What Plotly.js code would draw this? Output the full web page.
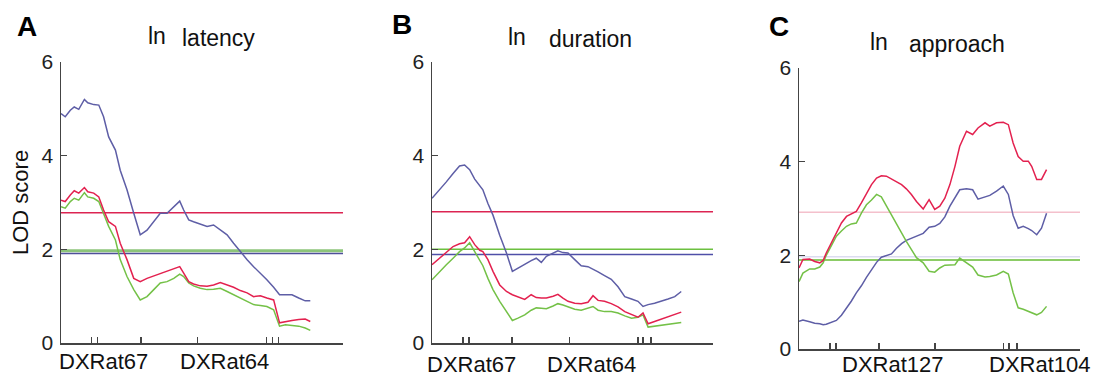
<!DOCTYPE html>
<html>
<head>
<meta charset="utf-8">
<script src="https://cdn.plot.ly/plotly-3.0.1.min.js"></script>
<style>html,body{margin:0;padding:0;background:#fff;}#chart{width:1096px;height:377px;}</style>
</head>
<body>
<div id="chart"></div>
<script>
// ---------- Panel A: ln latency ----------
const cmA = [0, 1.5, 3.3, 4.7, 6.3, 8.3, 9.5, 11.6, 13.4, 15.1, 16.9, 19.3, 21.0, 23.4, 25.8, 28.1, 30.5, 32.9, 35.2, 37.6, 40.0, 42.1, 43.5, 45.3, 47.0, 49.4, 51.8, 54.1, 56.5, 58.9, 61.2, 63.6, 66.0, 68.3, 70.7, 73.0, 75.4, 77.5, 79.6, 81.9, 84.3, 86.6, 88.4];
const lodA_blue = [4.90, 4.83, 4.97, 5.04, 4.99, 5.20, 5.13, 5.09, 5.08, 4.83, 4.40, 4.12, 3.69, 3.27, 2.77, 2.31, 2.41, 2.59, 2.77, 2.77, 2.91, 3.03, 2.84, 2.63, 2.59, 2.54, 2.49, 2.52, 2.41, 2.31, 2.13, 1.95, 1.78, 1.63, 1.49, 1.35, 1.19, 1.03, 1.03, 1.03, 0.96, 0.90, 0.90];
const lodA_red = [3.05, 3.02, 3.16, 3.25, 3.20, 3.32, 3.23, 3.20, 3.12, 2.84, 2.59, 2.49, 2.13, 1.78, 1.38, 1.31, 1.38, 1.43, 1.48, 1.53, 1.58, 1.63, 1.49, 1.31, 1.26, 1.22, 1.21, 1.24, 1.29, 1.24, 1.19, 1.12, 1.07, 0.99, 1.01, 0.96, 0.92, 0.43, 0.46, 0.48, 0.50, 0.51, 0.46];
const lodA_green = [2.91, 2.88, 3.02, 3.09, 3.05, 3.21, 3.12, 3.09, 3.02, 2.77, 2.49, 2.20, 1.78, 1.42, 1.14, 0.92, 0.99, 1.14, 1.28, 1.31, 1.38, 1.47, 1.42, 1.28, 1.22, 1.17, 1.14, 1.15, 1.17, 1.10, 1.03, 0.96, 0.89, 0.82, 0.80, 0.78, 0.71, 0.36, 0.39, 0.37, 0.36, 0.32, 0.27];
const thrA = {red: 2.78, green: 1.97, blue: 1.91};
const markersA = [10.9, 12.9, 28.4, 48.5, 72.9, 74.9, 77.0];
const markerLabelsA = ["DXRat67", "DXRat64"];
const markerLabelPosA = [15.2, 57.8];

// ---------- Panel B: ln duration ----------
const cmB = [0, 2.7, 5.1, 7.5, 9.8, 11.6, 13.4, 15.2, 17.0, 18.1, 19.9, 21.7, 24.1, 26.5, 28.6, 30.6, 33.0, 35.3, 37.1, 38.9, 40.7, 43.1, 44.8, 46.6, 48.4, 50.8, 53.1, 55.5, 57.3, 59.1, 61.4, 63.8, 66.2, 68.6, 71.0, 73.3, 75.1, 76.9, 79.2, 81.6, 84.0, 86.4, 88.7];
const lodB_blue = [3.09, 3.27, 3.44, 3.62, 3.78, 3.80, 3.70, 3.50, 3.35, 3.27, 2.98, 2.73, 2.30, 1.92, 1.53, 1.60, 1.69, 1.76, 1.81, 1.72, 1.85, 1.93, 1.97, 1.93, 1.92, 1.78, 1.65, 1.63, 1.58, 1.52, 1.44, 1.36, 1.20, 0.99, 0.94, 0.89, 0.78, 0.82, 0.85, 0.89, 0.94, 0.99, 1.10];
const lodB_red = [1.67, 1.81, 1.95, 2.06, 2.12, 2.14, 2.27, 2.10, 1.98, 1.95, 1.78, 1.53, 1.24, 1.10, 1.03, 0.98, 0.93, 1.03, 0.97, 0.96, 0.96, 1.00, 1.04, 0.96, 0.89, 0.85, 0.84, 0.87, 1.01, 0.91, 0.89, 0.84, 0.77, 0.67, 0.60, 0.55, 0.64, 0.41, 0.46, 0.51, 0.55, 0.60, 0.66];
const lodB_green = [1.35, 1.53, 1.67, 1.81, 1.95, 2.03, 2.14, 1.95, 1.78, 1.65, 1.38, 1.14, 0.89, 0.67, 0.48, 0.53, 0.60, 0.70, 0.75, 0.74, 0.73, 0.79, 0.84, 0.81, 0.77, 0.72, 0.70, 0.75, 0.78, 0.70, 0.67, 0.67, 0.64, 0.58, 0.53, 0.55, 0.60, 0.34, 0.36, 0.37, 0.39, 0.41, 0.44];
const thrB = {red: 2.80, green: 2.00, blue: 1.89};
const markersB = [11.0, 13.2, 28.5, 48.8, 73.3, 75.1, 77.9];
const markerLabelsB = ["DXRat67", "DXRat64"];
const markerLabelPosB = [14.2, 56.9];

// ---------- Panel C: ln approach ----------
const cmC = [0, 1.4, 3.8, 5.6, 7.4, 8.6, 9.7, 11.5, 13.3, 15.1, 16.9, 18.6, 20.4, 22.2, 24.0, 25.8, 27.6, 29.3, 31.1, 32.9, 34.7, 36.5, 38.2, 40.0, 41.8, 44.2, 46.3, 48.3, 50.1, 51.9, 53.7, 55.5, 57.2, 59.6, 61.8, 63.7, 66.2, 67.9, 70.3, 72.7, 74.5, 76.2, 78.0, 79.8, 81.6, 82.8, 84.6, 86.3, 88.1];
const lodC_red = [1.73, 1.91, 1.92, 1.87, 1.84, 1.89, 2.05, 2.26, 2.48, 2.69, 2.83, 2.88, 2.94, 3.12, 3.30, 3.51, 3.65, 3.70, 3.69, 3.63, 3.56, 3.51, 3.42, 3.30, 3.15, 2.99, 3.19, 2.98, 3.05, 3.22, 3.51, 3.90, 4.33, 4.65, 4.58, 4.72, 4.83, 4.76, 4.83, 4.84, 4.79, 4.40, 4.11, 4.01, 4.01, 3.90, 3.62, 3.62, 3.83];
const lodC_green = [1.44, 1.62, 1.71, 1.71, 1.75, 1.84, 2.00, 2.20, 2.41, 2.52, 2.62, 2.67, 2.69, 2.90, 3.08, 3.18, 3.30, 3.25, 3.05, 2.85, 2.66, 2.48, 2.30, 2.12, 1.95, 1.84, 1.66, 1.64, 1.73, 1.79, 1.80, 1.80, 1.94, 1.84, 1.75, 1.58, 1.54, 1.55, 1.58, 1.66, 1.60, 1.20, 0.88, 0.85, 0.81, 0.78, 0.73, 0.78, 0.91];
const lodC_blue = [0.59, 0.62, 0.58, 0.55, 0.54, 0.52, 0.53, 0.57, 0.61, 0.72, 0.87, 1.02, 1.20, 1.35, 1.53, 1.70, 1.85, 1.96, 1.99, 2.03, 2.15, 2.25, 2.32, 2.37, 2.41, 2.47, 2.60, 2.62, 2.68, 2.82, 3.05, 3.22, 3.40, 3.42, 3.40, 3.20, 3.24, 3.28, 3.37, 3.48, 3.30, 2.85, 2.58, 2.62, 2.57, 2.53, 2.44, 2.58, 2.90];
const thrC = {red: 2.92, blue: 1.97, green: 1.90};
const markersC = [11.0, 13.2, 28.5, 48.4, 72.9, 74.7, 77.6];
const markerLabelsC = ["DXRat127", "DXRat104"];
const markerLabelPosC = [33.5, 85.8];

const panelTitles = [["ln", "latency"], ["ln", "duration"], ["ln", "approach"]];
const panelLetters = ["A", "B", "C"];
const yTicks = [0, 2, 4, 6];
const xSpan = [0, 100];

// ---------- styling ----------
const RED = "#e3214f", BLUE = "#5e5ea6", GREEN = "#74c147";
const FONT = "Liberation Sans, Arial, sans-serif";
const AXC = "#444";

const traces = [];
function curve(x, y, color, ax) {
  traces.push({x: x, y: y, type: "scatter", mode: "lines", xaxis: ax.x, yaxis: ax.y,
    line: {color: color, width: 1.5}, hoverinfo: "skip"});
}
function hline(v, color, width, ax) {
  traces.push({x: xSpan, y: [v, v], type: "scatter", mode: "lines", xaxis: ax.x, yaxis: ax.y,
    line: {color: color, width: width}, hoverinfo: "skip"});
}
const axA = {x: "x", y: "y"}, axB = {x: "x2", y: "y2"}, axC = {x: "x3", y: "y3"};

// thresholds first (behind curves)
hline(thrA.red, "#dc2452", 1.5, axA);
hline(thrA.green, "#8cc47a", 3, axA);
hline(thrA.blue, "#4f4f9a", 1.5, axA);
curve(cmA, lodA_blue, BLUE, axA);
curve(cmA, lodA_green, GREEN, axA);
curve(cmA, lodA_red, RED, axA);

hline(thrB.red, "#dc2452", 1.5, axB);
hline(thrB.green, "#6cc040", 1.5, axB);
hline(thrB.blue, "#4f4fa8", 1.5, axB);
curve(cmB, lodB_blue, BLUE, axB);
curve(cmB, lodB_green, GREEN, axB);
curve(cmB, lodB_red, RED, axB);

hline(thrC.red, "#f4c0cc", 1.5, axC);
hline(thrC.blue, "#dcdcf0", 1.5, axC);
hline(thrC.green, "#66bb33", 1.5, axC);
curve(cmC, lodC_blue, BLUE, axC);
curve(cmC, lodC_green, GREEN, axC);
curve(cmC, lodC_red, RED, axC);

function xaxis(domain, ticks) {
  return {domain: domain, range: xSpan, showgrid: false, zeroline: false, showline: true,
    linecolor: AXC, linewidth: 1.5, ticks: "inside", ticklen: 6, tickwidth: 1.2, tickcolor: AXC,
    tickmode: "array", tickvals: ticks, showticklabels: false, fixedrange: true};
}
function yaxis(domain, anchor) {
  return {domain: domain, anchor: anchor, range: [0, 6], showgrid: false, zeroline: false, showline: true,
    linecolor: AXC, linewidth: 1.5, ticks: "inside", ticklen: 6, tickwidth: 1.2, tickcolor: AXC,
    tickmode: "array", tickvals: yTicks, ticktext: yTicks.map(String), ticklabelstandoff: 2,
    tickfont: {family: FONT, size: 21, color: "#222"}, fixedrange: true};
}
const W = 1096, H = 377;
const px = v => v / W, py = v => (H - v) / H;

const layout = {
  width: W, height: H, margin: {l: 0, r: 0, t: 0, b: 0},
  paper_bgcolor: "#fff", plot_bgcolor: "#fff", showlegend: false,
  xaxis: Object.assign(xaxis([px(61), px(343)], markersA), {anchor: "y"}),
  yaxis: yaxis([py(343), py(62)], "x"),
  xaxis2: Object.assign(xaxis([px(432), px(713)], markersB), {anchor: "y2"}),
  yaxis2: yaxis([py(343), py(62)], "x2"),
  xaxis3: Object.assign(xaxis([px(799), px(1080)], markersC), {anchor: "y3"}),
  yaxis3: yaxis([py(349), py(68)], "x3"),
  annotations: []
};
const ann = layout.annotations;
function txt(text, x, y, opts) {
  ann.push(Object.assign({text: text, x: x, y: y, xref: "paper", yref: "paper", showarrow: false,
    xanchor: "center", yanchor: "middle", font: {family: FONT, size: 23, color: "#111"}}, opts || {}));
}
// panel letters
txt(panelLetters[0], px(27), py(26), {font: {family: FONT, size: 28, color: "#000", weight: "bold"}});
txt(panelLetters[1], px(402), py(25), {font: {family: FONT, size: 28, color: "#000", weight: "bold"}});
txt(panelLetters[2], px(779), py(27), {font: {family: FONT, size: 28, color: "#000", weight: "bold"}});
// titles
txt(panelTitles[0][0], px(157), py(36));
txt(panelTitles[0][1], px(218), py(38));
txt(panelTitles[1][0], px(517), py(37));
txt(panelTitles[1][1], px(590), py(39));
txt(panelTitles[2][0], px(879), py(42));
txt(panelTitles[2][1], px(957), py(44));
// y axis title
txt("LOD score", px(20), py(203), {textangle: -90, font: {family: FONT, size: 22, color: "#111"}});
// marker labels
function mlabels(labels, pos, xref, yPix) {
  labels.forEach((l, i) => ann.push({text: l, x: pos[i], y: py(yPix), xref: xref, yref: "paper",
    showarrow: false, xanchor: "center", yanchor: "middle",
    font: {family: FONT, size: 22, color: "#111"}}));
}
mlabels(markerLabelsA, markerLabelPosA, "x", 361);
mlabels(markerLabelsB, markerLabelPosB, "x2", 364);
mlabels(markerLabelsC, markerLabelPosC, "x3", 364);

Plotly.newPlot("chart", traces, layout, {staticPlot: true, displayModeBar: false});
</script>
</body>
</html>
